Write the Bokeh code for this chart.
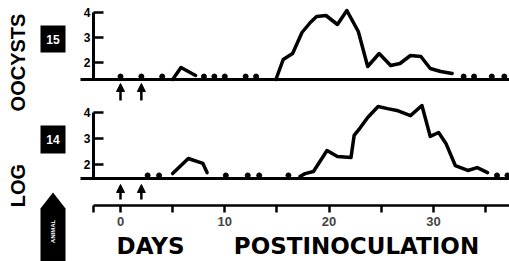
import math
from bokeh.plotting import figure
from bokeh.models import (Range1d, LinearAxis, FixedTicker, ColumnDataSource, Arrow,
                          NormalHead, Label, BoxAnnotation, PolyAnnotation)
from bokeh.embed import file_html
from bokeh.resources import INLINE

# ---------------- data ----------------
day_ticks = [0, 10, 20, 30]
day_minor_ticks = [5, 15, 25, 35]
log_ticks = [2, 3, 4]
inoculation_days = [0, 2]

# animal 15 (upper panel)
a15_floor = 1.44
a15_neg_days = [0, 2, 4, 8, 9, 10, 12, 13, 32.9, 33.9, 35.6, 36.8]
a15_seg1_days = [5.0, 5.8, 7.2]
a15_seg1_log = [1.32, 1.80, 1.48]
a15_seg2_days = [14.9, 15.6, 16.5, 17.4, 18.2, 18.8, 19.7, 20.8, 21.7, 22.8,
                 23.7, 24.8, 25.9, 26.8, 27.8, 28.8, 29.7, 30.7, 31.8]
a15_seg2_log = [1.32, 2.12, 2.36, 3.20, 3.60, 3.84, 3.88, 3.52, 4.08, 3.24,
                1.84, 2.36, 1.88, 1.96, 2.28, 2.24, 1.76, 1.64, 1.56]

# animal 14 (lower panel)
a14_floor = 1.58
a14_neg_days = [2.6, 3.7, 10.1, 12.2, 13.3, 16.1, 36.1, 37.1]
a14_seg1_days = [5.0, 6.5, 7.9, 8.3]
a14_seg1_log = [1.65, 2.23, 2.04, 1.69]
a14_seg2_days = [17.2, 17.7, 18.5, 19.8, 20.8, 22.1, 22.4, 23.0, 23.7, 24.7,
                 25.6, 26.5, 27.8, 28.9, 29.7, 30.5, 31.2, 32.1, 33.3, 34.2, 35.2]
a14_seg2_log = [1.54, 1.65, 1.73, 2.54, 2.31, 2.27, 3.12, 3.42, 3.81, 4.23,
                4.15, 4.08, 3.88, 4.27, 3.08, 3.23, 2.81, 1.96, 1.77, 1.88, 1.69]

# ---------------- layout ----------------
W, H = 509, 261
px_per_day = 10.43
day0_px = 120
x0 = -day0_px / px_per_day
x_range = Range1d(x0, x0 + W / px_per_day)

# lower panel (default y range): 26 px per log unit, value 4 at 112 px from top
bot_end = 4 + 112 / 26
bot_range = Range1d(bot_end - H / 26, bot_end)
# upper panel: 25 px per log unit, value 4 at 12 px from top
top_end = 4 + 12 / 25
top_range = Range1d(top_end - H / 25, top_end)

p = figure(width=W, height=H, output_backend="svg", toolbar_location=None,
           x_axis_type=None, y_axis_type=None, min_border=0,
           x_range=x_range, y_range=bot_range)
p.extra_y_ranges = {"top": top_range}
p.outline_line_color = None
p.background_fill_color = "white"
p.border_fill_color = "white"

AX_X = -2.6
TOP_BASE = 1.32
BOT_BASE = 1.46
XAXIS_Y = 4 - (205 - 112) / 26
FONT = "Liberation Sans"


def y_axis(range_name, base):
    kw = {"y_range_name": range_name} if range_name else {}
    ax = LinearAxis(fixed_location=AX_X, ticker=FixedTicker(ticks=log_ticks),
                    bounds=(base, 4), **kw)
    ax.major_tick_in = 10
    ax.major_tick_out = 0
    ax.minor_tick_in = 0
    ax.minor_tick_out = 0
    ax.axis_line_width = 3
    ax.major_tick_line_width = 2.5
    ax.major_label_standoff = 3
    ax.major_label_text_font = FONT
    ax.major_label_text_font_style = "bold"
    ax.major_label_text_font_size = "12px"
    ax.major_label_text_color = "black"
    p.add_layout(ax, "left")


def base_axis(range_name, base):
    kw = {"y_range_name": range_name} if range_name else {}
    ax = LinearAxis(fixed_location=base, ticker=FixedTicker(ticks=[]),
                    bounds=(-3.8, 45), **kw)
    ax.axis_line_width = 3
    ax.major_tick_in = 0
    ax.major_tick_out = 0
    ax.minor_tick_in = 0
    ax.minor_tick_out = 0
    p.add_layout(ax, "below")


y_axis("top", TOP_BASE)
y_axis(None, BOT_BASE)
base_axis("top", TOP_BASE)
base_axis(None, BOT_BASE)

xa = LinearAxis(fixed_location=XAXIS_Y,
                ticker=FixedTicker(ticks=day_ticks, minor_ticks=[AX_X] + day_minor_ticks),
                bounds=(AX_X, 45))
xa.axis_line_width = 2.5
xa.major_tick_in = 0
xa.major_tick_out = 7
xa.minor_tick_in = 0
xa.minor_tick_out = 7
xa.major_tick_line_width = 2.5
xa.minor_tick_line_width = 2.5
xa.major_label_standoff = 4
xa.major_label_text_font = FONT
xa.major_label_text_font_style = "bold"
xa.major_label_text_font_size = "13px"
p.add_layout(xa, "below")

# ---------------- data marks ----------------
p.multi_line(xs=[a15_seg1_days, a15_seg2_days], ys=[a15_seg1_log, a15_seg2_log],
             y_range_name="top", line_color="black", line_width=3.5,
             line_join="round", line_cap="round")
p.scatter(x=a15_neg_days, y=[a15_floor] * len(a15_neg_days), y_range_name="top",
          size=5, color="black")

p.multi_line(xs=[a14_seg1_days, a14_seg2_days], ys=[a14_seg1_log, a14_seg2_log],
             line_color="black", line_width=3.5, line_join="round", line_cap="round")
p.scatter(x=a14_neg_days, y=[a14_floor] * len(a14_neg_days), size=5, color="black")

# inoculation arrows
for rng, y0, y1 in (("top", 0.48, 1.16), ("default", 0.65, 1.23)):
    src = ColumnDataSource(dict(x=inoculation_days,
                                y0=[y0] * len(inoculation_days),
                                y1=[y1] * len(inoculation_days)))
    ar = Arrow(end=NormalHead(size=8, fill_color="black", line_color="black", line_width=1),
               source=src, x_start="x", y_start="y0", x_end="x", y_end="y1",
               line_width=2.5, line_color="black", y_range_name=rng)
    p.add_layout(ar)

# ---------------- texts & labels ----------------
def lab(x, y, text, size, angle=0.0, color="black", font=FONT, style="bold"):
    p.add_layout(Label(x=x, y=y, x_units="screen", y_units="screen", text=text,
                       angle=angle, text_align="center", text_baseline="middle",
                       text_font=font, text_font_style=style, text_font_size=size,
                       text_color=color))

lab(17, 199, "OOCYSTS", "20px", angle=math.pi / 2)
lab(17, 76, "LOG", "20px", angle=math.pi / 2)
lab(150, 16, "DAYS", "23px", font="DejaVu Sans")
lab(356, 16, "POSTINOCULATION", "23px", font="DejaVu Sans")

for bottom, top, name in ((209, 236, "15"), (108, 136, "14")):
    p.add_layout(BoxAnnotation(left=40, right=65, bottom=bottom, top=top,
                               left_units="screen", right_units="screen",
                               bottom_units="screen", top_units="screen",
                               fill_color="black", fill_alpha=1, line_color=None))
    lab(52.5, (bottom + top) / 2, name, "12px", color="white")

p.add_layout(PolyAnnotation(xs=[40, 65, 65, 52.5, 40], ys=[-5, -5, 53, 69, 53],
                            xs_units="screen", ys_units="screen",
                            fill_color="black", fill_alpha=1, line_color=None))
lab(52.5, 30, "ANIMAL", "6px", angle=math.pi / 2, color="white")

open("out.html", "w").write(file_html(p, INLINE))
